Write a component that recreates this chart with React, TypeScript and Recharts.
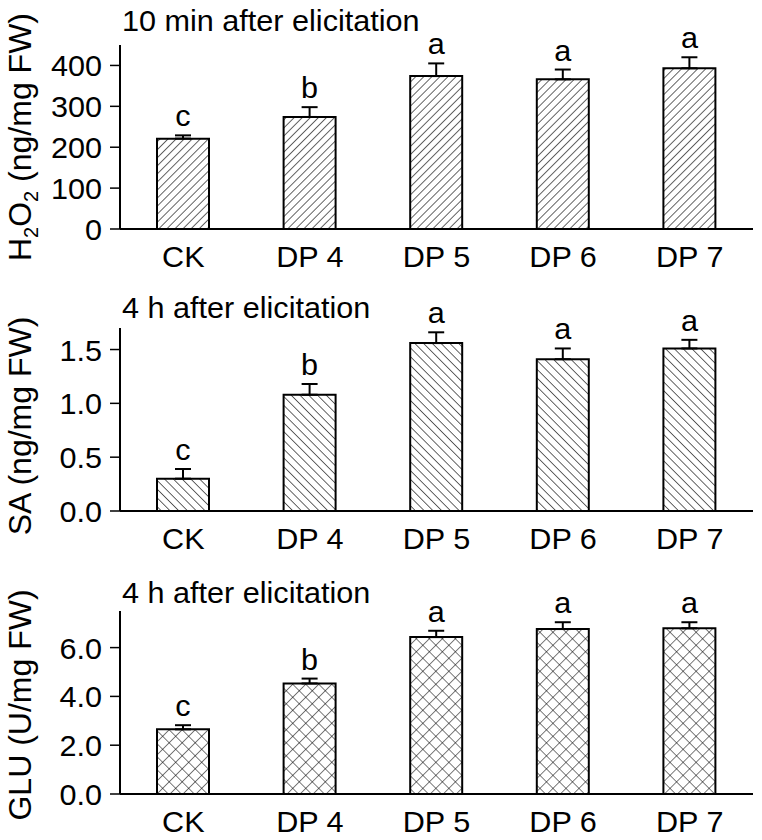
import React from "react";
import { Bar, BarChart, ErrorBar, LabelList, XAxis, YAxis } from "recharts";

const categories = ["CK", "DP 4", "DP 5", "DP 6", "DP 7"];

const h2o2Values = [221, 274, 374, 366, 393];
const h2o2Errors = [8, 24, 31, 24, 27];
const h2o2Letters = ["c", "b", "a", "a", "a"];
const h2o2Ticks = [0, 100, 200, 300, 400];

const saValues = [0.3, 1.08, 1.56, 1.41, 1.51];
const saErrors = [0.09, 0.1, 0.1, 0.1, 0.08];
const saLetters = ["c", "b", "a", "a", "a"];
const saTicks = [0, 0.5, 1.0, 1.5];

const gluValues = [2.65, 4.53, 6.43, 6.76, 6.79];
const gluErrors = [0.17, 0.2, 0.26, 0.28, 0.25];
const gluLetters = ["c", "b", "a", "a", "a"];
const gluTicks = [0, 2.0, 4.0, 6.0];

const FONT = "'Liberation Sans', Arial, Helvetica, sans-serif";
const FS = 30;
const SX = 1.02;

const build = (values: number[], errors: number[], letters: string[]) =>
  categories.map((name, i) => ({
    name,
    value: values[i],
    err: [0, errors[i]],
    letter: letters[i],
  }));

function WideText({ x, y, anchor = "start", children }: any) {
  return (
    <text
      transform={`translate(${x},${y}) scale(${SX},1)`}
      textAnchor={anchor}
      fontFamily={FONT}
      fontSize={FS}
      fill="#000"
    >
      {children}
    </text>
  );
}

type PanelProps = {
  data: any[];
  domain: [number, number];
  ticks: number[];
  fmt: (v: number) => string;
  pattern: string;
  title: string;
  titleY: number;
  yLabel: React.ReactNode;
  labelY: number;
  top: number;
  xHeight: number;
};

function Panel(p: PanelProps) {
  return (
    <BarChart
      width={762}
      height={280}
      data={p.data}
      margin={{ top: p.top, right: 9, left: 0, bottom: 0 }}
      barCategoryGap={0}
    >
      <XAxis
        dataKey="name"
        height={p.xHeight}
        axisLine={{ stroke: "#000", strokeWidth: 2 }}
        tickLine={false}
        tickSize={0}
        tickMargin={17}
        tick={({ x, y, payload }: any) => (
          <g>
            <WideText x={x} y={y + 21} anchor="middle">
              {payload.value}
            </WideText>
          </g>
        )}
      />
      <YAxis
        width={120}
        domain={p.domain}
        ticks={p.ticks}
        allowDataOverflow
        axisLine={{ stroke: "#000", strokeWidth: 2 }}
        tickLine={{ stroke: "#000", strokeWidth: 1.5 }}
        tickSize={10}
        tickMargin={8}
        tick={({ x, y, payload }: any) => (
          <g>
            <WideText x={x} y={y + 11} anchor="end">
              {p.fmt(payload.value)}
            </WideText>
          </g>
        )}
      />
      <Bar
        dataKey="value"
        barSize={52}
        fill={`url(#${p.pattern})`}
        stroke="#000"
        strokeWidth={2}
        isAnimationActive={false}
      >
        <ErrorBar
          dataKey="err"
          direction="y"
          width={8}
          stroke="#000"
          strokeWidth={2}
        />
        <LabelList
          dataKey="letter"
          content={(lp: any) => {
            const { x, y, width, height, index } = lp;
            const d = p.data[index];
            const errPx = (d.err[1] * height) / d.value;
            return (
              <WideText x={x + width / 2} y={y - errPx - 9} anchor="middle">
                {d.letter}
              </WideText>
            );
          }}
        />
      </Bar>
      <WideText x={122} y={p.titleY}>
        {p.title}
      </WideText>
      <text
        transform={`translate(31,${p.labelY}) rotate(-90)`}
        textAnchor="middle"
        fontFamily={FONT}
        fontSize={32}
        fill="#000"
      >
        {p.yLabel}
      </text>
    </BarChart>
  );
}

export default function App() {
  return (
    <div
      style={{
        position: "absolute",
        left: 0,
        top: 0,
        width: 762,
        height: 840,
        background: "#fff",
      }}
    >
      <svg width={0} height={0} style={{ position: "absolute" }}>
        <defs>
          <pattern
            id="hatchFwd"
            patternUnits="userSpaceOnUse"
            width={5.7}
            height={5.7}
            patternTransform="rotate(45)"
          >
            <rect width={5.7} height={5.7} fill="#fff" />
            <line x1={0} y1={0} x2={0} y2={5.7} stroke="#111" strokeWidth={1.3} />
          </pattern>
          <pattern
            id="hatchBack"
            patternUnits="userSpaceOnUse"
            width={6.2}
            height={6.2}
            patternTransform="rotate(-45)"
          >
            <rect width={6.2} height={6.2} fill="#fff" />
            <line x1={0} y1={0} x2={0} y2={6.2} stroke="#111" strokeWidth={1.3} />
          </pattern>
          <pattern
            id="hatchCross"
            patternUnits="userSpaceOnUse"
            width={9.2}
            height={9.2}
            patternTransform="rotate(45)"
          >
            <rect width={9.2} height={9.2} fill="#fff" />
            <line x1={0} y1={0} x2={0} y2={9.2} stroke="#111" strokeWidth={1.1} />
            <line x1={0} y1={0} x2={9.2} y2={0} stroke="#111" strokeWidth={1.1} />
          </pattern>
        </defs>
      </svg>
      <Panel
        data={build(h2o2Values, h2o2Errors, h2o2Letters)}
        domain={[0, 450]}
        ticks={h2o2Ticks}
        fmt={(v) => String(v)}
        pattern="hatchFwd"
        title="10 min after elicitation"
        titleY={31}
        yLabel={
          <>
            <tspan>H</tspan>
            <tspan fontSize={20} dy={7}>2</tspan>
            <tspan dy={-7}>O</tspan>
            <tspan fontSize={20} dy={7}>2</tspan>
            <tspan dy={-7}> (ng/mg FW)</tspan>
          </>
        }
        labelY={137}
        top={45}
        xHeight={51}
      />
      <Panel
        data={build(saValues, saErrors, saLetters)}
        domain={[0, 1.7]}
        ticks={saTicks}
        fmt={(v) => v.toFixed(1)}
        pattern="hatchBack"
        title="4 h after elicitation"
        titleY={38}
        yLabel="SA (ng/mg FW)"
        labelY={146}
        top={48}
        xHeight={49}
      />
      <Panel
        data={build(gluValues, gluErrors, gluLetters)}
        domain={[0, 7.5]}
        ticks={gluTicks}
        fmt={(v) => v.toFixed(1)}
        pattern="hatchCross"
        title="4 h after elicitation"
        titleY={43}
        yLabel="GLU (U/mg FW)"
        labelY={145}
        top={51}
        xHeight={46}
      />
    </div>
  );
}
